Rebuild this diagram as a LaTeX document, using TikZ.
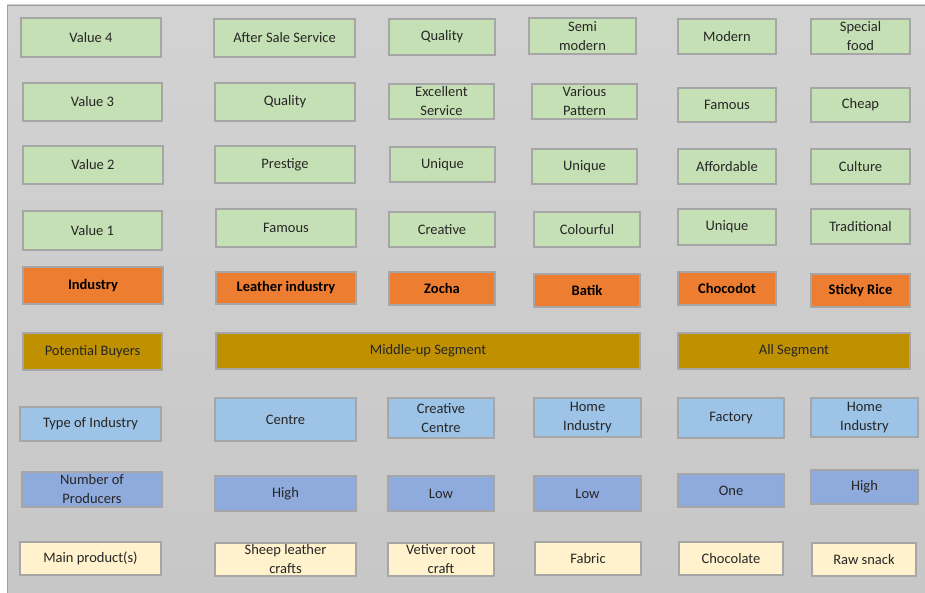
\documentclass[tikz,border=0pt]{standalone}
\usepackage{fontspec}
\setmainfont{Carlito}
\usepackage{xcolor}
\definecolor{cellgreen}{HTML}{C5E0B4}
\definecolor{cellorange}{HTML}{ED7D31}
\definecolor{cellgold}{HTML}{BF9000}
\definecolor{cellsky}{HTML}{9DC3E6}
\definecolor{cellblue}{HTML}{8FAADC}
\definecolor{cellcream}{HTML}{FFF2CC}
\definecolor{cellline}{HTML}{A6A6A6}
\tikzstyle{cell}=[
        draw = cellline,
        line width = 2pt,
        rectangle,
        inner sep = 0pt,
        align = center,
        text = black!85,
        font = \fontsize{14.5}{19}\selectfont
    ]
\tikzstyle{green box}=[cell, fill = cellgreen]
\tikzstyle{orange box}=[cell, fill = cellorange, font = \fontsize{14.5}{19}\selectfont\bfseries, text = black]
\tikzstyle{gold box}=[cell, fill = cellgold]
\tikzstyle{sky box}=[cell, fill = cellsky]
\tikzstyle{blue box}=[cell, fill = cellblue]
\tikzstyle{cream box}=[cell, fill = cellcream]
\tikzset{wh/.style 2 args = {minimum width = #1pt, minimum height = #2pt}}

\begin{document}
\begin{tikzpicture}[x=1pt, y=-1pt]
        \useasboundingbox (0,0) rectangle (925,593);
        \draw[gray!75, top color = gray!35, bottom color = gray!44] (7,5) rectangle (926,594);

        % values
        \node[green box, wh={140}{39}] (v4) at (91,37.5) {Value 4};
        \node[green box, wh={141}{38}] (ass) at (284.5,38) {After Sale Service};
        \node[green box, wh={106}{36}] (q1) at (442,37) {Quality};
        \node[green box, wh={107}{36}] (semi) at (582.5,36) {Semi\\modern};
        \node[green box, wh={98}{35}] (mod) at (727,36.5) {Modern};
        \node[green box, wh={99}{35}] (spec) at (860.5,36.5) {Special\\food};

        \node[green box, wh={139}{38}] (v3) at (92.5,102) {Value 3};
        \node[green box, wh={140}{38}] (q2) at (285,102) {Quality};
        \node[green box, wh={105}{35}] (exc) at (441.5,101.5) {Excellent\\Service};
        \node[green box, wh={105}{35}] (var) at (584.5,101.5) {Various\\Pattern};
        \node[green box, wh={98}{34}] (fam2) at (727,105) {Famous};
        \node[green box, wh={99}{34}] (cheap) at (860.5,105) {Cheap};

        \node[green box, wh={140}{38}] (v2) at (93,165) {Value 2};
        \node[green box, wh={140}{37}] (pres) at (285,164.5) {Prestige};
        \node[green box, wh={105}{35}] (u3) at (442.5,164.5) {Unique};
        \node[green box, wh={105}{35}] (u4) at (584.5,166.5) {Unique};
        \node[green box, wh={98}{35}] (aff) at (727,166.5) {Affordable};
        \node[green box, wh={99}{35}] (cult) at (860.5,166.5) {Culture};

        \node[green box, wh={139}{39}] (v1) at (92.5,230.5) {Value 1};
        \node[green box, wh={140}{38}] (fam1) at (286,228) {Famous};
        \node[green box, wh={106}{35}] (crea) at (442,229.5) {Creative};
        \node[green box, wh={106}{35}] (col) at (587,229.5) {Colourful};
        \node[green box, wh={98}{36}] (u5) at (727,227) {Unique};
        \node[green box, wh={99}{35}] (trad) at (860.5,226.5) {Traditional};

        % industries
        \node[orange box, wh={140}{37}] (ind) at (93,285.5) {Industry};
        \node[orange box, wh={140}{32}] (lea) at (286,288) {Leather industry};
        \node[orange box, wh={106}{33}] (zoc) at (442,288.5) {Zocha};
        \node[orange box, wh={106}{33}] (bat) at (587,290.5) {Batik};
        \node[orange box, wh={98}{33}] (cdot) at (727,288.5) {Chocodot};
        \node[orange box, wh={99}{33}] (rice) at (860.5,290.5) {Sticky Rice};

        % buyers
        \node[gold box, wh={139}{37}] (buy) at (92.5,351.5) {Potential Buyers};
        \node[gold box, wh={424}{36}] (mid) at (428,351) {Middle-up Segment};
        \node[gold box, wh={232}{36}] (all) at (794,351) {All Segment};

        % type
        \node[sky box, wh={141}{34}] (type) at (90.5,424) {Type of Industry};
        \node[sky box, wh={141}{43}] (cen) at (285.5,419.5) {Centre};
        \node[sky box, wh={106}{40}] (cc) at (441,418) {Creative\\Centre};
        \node[sky box, wh={107}{39}] (home4) at (587.5,417.5) {Home\\Industry};
        \node[sky box, wh={106}{40}] (fac) at (731,418) {Factory};
        \node[sky box, wh={107}{39}] (home6) at (864.5,417.5) {Home\\Industry};

        % producers
        \node[blue box, wh={140}{35}] (np) at (92,489.5) {Number of\\Producers};
        \node[blue box, wh={141}{35}] (hi3) at (285.5,493.5) {High};
        \node[blue box, wh={106}{35}] (lo3) at (441,493.5) {Low};
        \node[blue box, wh={107}{35}] (lo4) at (587.5,493.5) {Low};
        \node[blue box, wh={106}{33}] (one) at (731,490.5) {One};
        \node[blue box, wh={107}{34}] (hi6) at (864.5,487) {High};

        % products
        \node[cream box, wh={141}{33}] (mp) at (90.5,558.5) {Main product(s)};
        \node[cream box, wh={141}{33}] (sheep) at (285.5,559.5) {Sheep leather\\crafts};
        \node[cream box, wh={106}{33}] (vet) at (441,559.5) {Vetiver root\\craft};
        \node[cream box, wh={106}{33}] (fab) at (588,558.5) {Fabric};
        \node[cream box, wh={104}{33}] (choc) at (731,558.5) {Chocolate};
        \node[cream box, wh={104}{33}] (raw) at (864,559.5) {Raw snack};

    \end{tikzpicture}
\end{document}
